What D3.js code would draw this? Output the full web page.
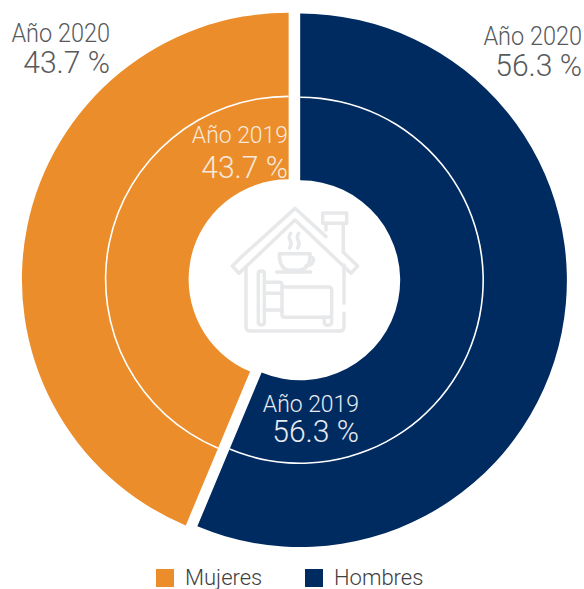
<!DOCTYPE html>
<html><head><meta charset="utf-8">
<style>html,body{margin:0;padding:0;background:#fff}svg{display:block}text{font-family:Roboto,sans-serif;font-weight:300}</style>
<script src="https://cdn.jsdelivr.net/npm/d3@7"></script></head>
<body><svg id="c" width="584" height="589"></svg>
<script>
const categories = ["Hombres", "Mujeres"];
const legendOrder = ["Mujeres", "Hombres"];
const year2019 = [56.3, 43.7];
const year2020 = [56.3, 43.7];
const yearLabels = ["Año 2019", "Año 2020"];
const colors = d3.scaleOrdinal(categories, ["#002B60", "#EB8D2B"]);

const svg = d3.select("#c");
const cx = 294.4, cy = 279.8, explodeX = 5.9, explodeY = 2.3;
const rHole = 100, rMid = 183, rOuter = 266.7;
const pie = d3.pie().sort(null).value(d => d);
const shift = d => {
  const m = (d.startAngle + d.endAngle) / 2;
  return `translate(${cx + explodeX * Math.sin(m)},${cy - explodeY * Math.cos(m)})`;
};

function ring(values, r0, r1, name) {
  const arc = d3.arc().innerRadius(r0).outerRadius(r1);
  svg.append("g").attr("class", name).selectAll("path").data(pie(values)).join("path")
    .attr("d", arc)
    .attr("fill", (d, i) => colors(categories[i]))
    .attr("transform", shift);
}
ring(year2020, rMid, rOuter, "outer");
ring(year2019, rHole, rMid, "inner");

// white divider between the two rings
const divider = d3.arc().innerRadius(rMid - 0.8).outerRadius(rMid + 0.8);
svg.append("g").selectAll("path").data(pie(year2019)).join("path")
  .attr("d", divider).attr("fill", "#fff").attr("transform", shift);

// labels
const labels = [
  {y: yearLabels[1], v: year2020[1], x: 110, b1: 42, b2: 73, c: "#58595b", f: 25},
  {y: yearLabels[1], v: year2020[0], x: 582, b1: 45, b2: 76, c: "#58595b", f: 25},
  {y: yearLabels[0], v: year2019[1], x: 288, b1: 143, b2: 178, c: "#f7e9da", f: 24.4},
  {y: yearLabels[0], v: year2019[0], x: 359, b1: 412, b2: 442, c: "#e8ecf2", f: 24.4}
];
const lab = svg.append("g").selectAll("g").data(labels).join("g");
lab.append("text").attr("transform", d => `translate(${d.x},${d.b1}) scale(0.94,1)`)
  .attr("text-anchor", "end").attr("font-size", d => d.f).attr("fill", d => d.c).text(d => d.y);
lab.append("text").attr("transform", d => `translate(${d.x},${d.b2}) scale(0.94,1)`)
  .attr("text-anchor", "end").attr("font-size", 32).attr("fill", d => d.c).text(d => d.v.toFixed(1) + " %");

// legend
const legendX = d3.scaleOrdinal(legendOrder, [156, 305]);
const leg = svg.append("g").selectAll("g").data(legendOrder).join("g");
leg.append("rect").attr("x", d => legendX(d)).attr("y", 569).attr("width", 18).attr("height", 18)
  .attr("fill", d => colors(d));
leg.append("text").attr("x", d => legendX(d) + 29).attr("y", 585)
  .attr("font-size", 22).attr("fill", "#404040").text(d => d);

// house icon
const icon = svg.append("g").attr("transform", "translate(220,195) scale(0.3333)")
  .attr("fill", "none").attr("stroke", "#e7e8ea").attr("stroke-width", 10.5)
  .attr("stroke-linecap", "round").attr("stroke-linejoin", "round");
[
  "M62,188 L37,213 L57,235 L225,75 L393,235 L413,213 L370,172 M62,188 L225,40 L318,125",
  "M318,105 L318,85 M370,172 L370,85 M308,85 L308,54 L380,54 L380,85 Z",
  "M78,215 L78,395 Q78,408 91,408 L360,408 Q372,408 372,395 L372,355 M372,325 L372,210",
  "M178,176 L270,176 Q272,226 232,226 L212,226 Q178,226 178,176 Z M270,186 Q282,186 280,198 Q276,212 258,212 M170,231 L272,231",
  "M212,115 Q204,125 211,137 Q216,148 209,159 M236,115 Q228,125 235,137 Q240,148 233,159",
  "M115,235 Q115,228 124,228 Q133,228 133,235 L133,382 Q133,390 124,390 Q115,390 115,382 Z",
  "M133,262 L178,262 Q186,262 186,270 L186,360 Q186,367 194,367 L325,367 Q335,367 335,357 L335,285 Q335,276 325,276 L186,276",
  "M133,295 L186,295 M133,345 L186,345",
  "M313,367 L313,382 Q313,391 323,391 Q335,391 335,382 L335,367"
].forEach(p => icon.append("path").attr("d", p));
</script></body></html>
